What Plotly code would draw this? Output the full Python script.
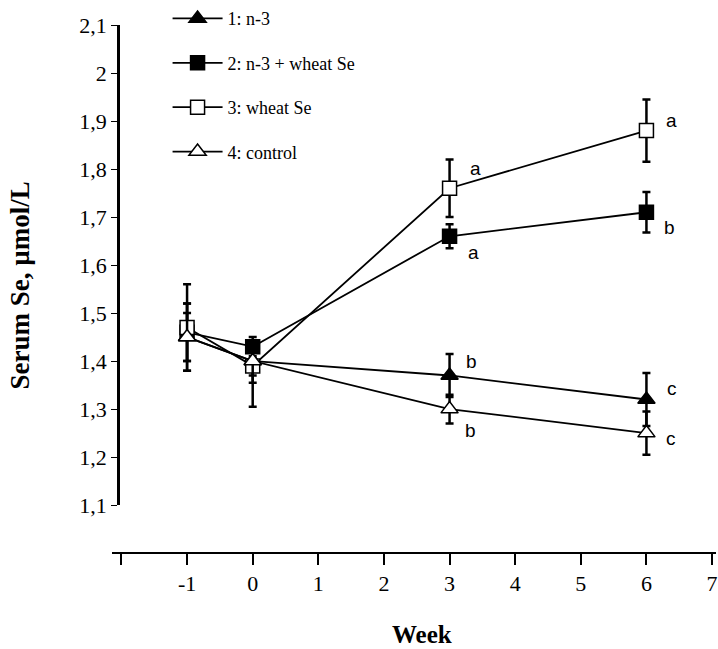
import plotly.graph_objects as go

# ---- data ----
weeks = [-1, 0, 3, 6]

series_names = ["1: n-3", "2: n-3 + wheat Se", "3: wheat Se", "4: control"]

n3_vals = [1.45, 1.40, 1.37, 1.32]
n3_err_plus = [0.07, 0.03, 0.045, 0.055]
n3_err_minus = [0.07, 0.03, 0.045, 0.055]
n3_letters = ["", "", "b", "c"]

n3w_vals = [1.46, 1.43, 1.66, 1.71]
n3w_err_plus = [0.06, 0.02, 0.025, 0.042]
n3w_err_minus = [0.06, 0.02, 0.025, 0.042]
n3w_letters = ["", "", "a", "b"]

wheat_vals = [1.47, 1.39, 1.76, 1.88]
wheat_err_plus = [0.09, 0.03, 0.06, 0.065]
wheat_err_minus = [0.09, 0.085, 0.06, 0.065]
wheat_letters = ["", "", "a", "a"]

ctrl_vals = [1.45, 1.40, 1.30, 1.25]
ctrl_err_plus = [0.05, 0.04, 0.03, 0.045]
ctrl_err_minus = [0.05, 0.045, 0.03, 0.045]
ctrl_letters = ["", "", "b", "c"]

x_tick_vals = [-2, -1, 0, 1, 2, 3, 4, 5, 6, 7]
x_tick_text = ["", "-1", "0", "1", "2", "3", "4", "5", "6", "7"]
y_tick_vals = [1.1, 1.2, 1.3, 1.4, 1.5, 1.6, 1.7, 1.8, 1.9, 2.0, 2.1]
y_tick_text = ["1,1", "1,2", "1,3", "1,4", "1,5", "1,6", "1,7", "1,8", "1,9", "2", "2,1"]

x_title = "Week"
y_title = "Serum Se, µmol/L"

# ---- styles ----
SERIF = "Liberation Serif, Times New Roman, serif"
styles = [
    dict(symbol="triangle-up", fill="black", size=15),
    dict(symbol="square", fill="black", size=14),
    dict(symbol="square", fill="white", size=14),
    dict(symbol="triangle-up", fill="white", size=15),
]
# letter offsets in pixels (dx, dy up)
letter_offsets = [
    [None, None, (22, 14), (26, 11)],
    [None, None, (24, -16), (23, -15)],
    [None, None, (26, 20), (25, 10)],
    [None, None, (21, -21), (25, -5)],
]

all_vals = [n3_vals, n3w_vals, wheat_vals, ctrl_vals]
all_plus = [n3_err_plus, n3w_err_plus, wheat_err_plus, ctrl_err_plus]
all_minus = [n3_err_minus, n3w_err_minus, wheat_err_minus, ctrl_err_minus]
all_letters = [n3_letters, n3w_letters, wheat_letters, ctrl_letters]

fig = go.Figure()
for i, name in enumerate(series_names):
    st = styles[i]
    fig.add_trace(go.Scatter(
        x=weeks, y=all_vals[i], name=name, mode="lines+markers",
        legendgroup=str(i),
        line=dict(color="black", width=1.8),
        marker=dict(symbol=st["symbol"], size=st["size"], color=st["fill"],
                    line=dict(color="black", width=1.5)),
        error_y=dict(type="data", symmetric=False, array=all_plus[i],
                     arrayminus=all_minus[i], color="black",
                     thickness=2.5, width=4),
    ))

annotations = []
for i in range(4):
    for j, w in enumerate(weeks):
        txt = all_letters[i][j]
        if txt:
            dx, dy = letter_offsets[i][j]
            annotations.append(dict(
                x=w, y=all_vals[i][j], xref="x", yref="y", text=txt,
                showarrow=False, xshift=dx, yshift=dy,
                font=dict(family="Liberation Sans, Arial", size=19, color="black")))

annotations.append(dict(
    x=-0.152, y=0.507, xref="paper", yref="paper", text="<b>" + y_title + "</b>",
    textangle=-90, showarrow=False, xanchor="center", yanchor="middle",
    font=dict(family=SERIF, size=27, color="black")))
annotations.append(dict(
    x=0.513, y=-0.155, xref="paper", yref="paper", text="<b>" + x_title + "</b>",
    showarrow=False, xanchor="center", yanchor="middle",
    font=dict(family=SERIF, size=25, color="black")))

fig.update_layout(
    width=718, height=649,
    margin=dict(l=112, r=0, t=24, b=96),
    paper_bgcolor="white", plot_bgcolor="white",
    showlegend=True,
    legend=dict(x=0.092, y=1.047, xanchor="left", yanchor="top",
                bgcolor="rgba(0,0,0,0)", tracegroupgap=18,
                itemwidth=50,
                font=dict(family=SERIF, size=18, color="black")),
    annotations=annotations,
    xaxis=dict(range=[-2.144, 7.06], domain=[0, 1], anchor="free", position=0,
               showline=True, linecolor="black", linewidth=2,
               ticks="outside", ticklen=11, tickwidth=1.5, tickcolor="black",
               tickvals=x_tick_vals, ticktext=x_tick_text,
               ticklabeloverflow="allow",
               showgrid=False, zeroline=False,
               tickfont=dict(family=SERIF, size=22, color="black")),
    yaxis=dict(range=[1.1, 2.1], domain=[0.0907, 1], anchor="free", position=0.0099,
               showline=True, linecolor="black", linewidth=2.5,
               ticks="outside", ticklen=6, tickwidth=1.2, tickcolor="black",
               tickvals=y_tick_vals, ticktext=y_tick_text,
               showgrid=False, zeroline=False,
               tickfont=dict(family=SERIF, size=22, color="black")),
)

fig.write_html("out.html", config={"displayModeBar": False},
               post_script="document.body.style.margin='0';")
